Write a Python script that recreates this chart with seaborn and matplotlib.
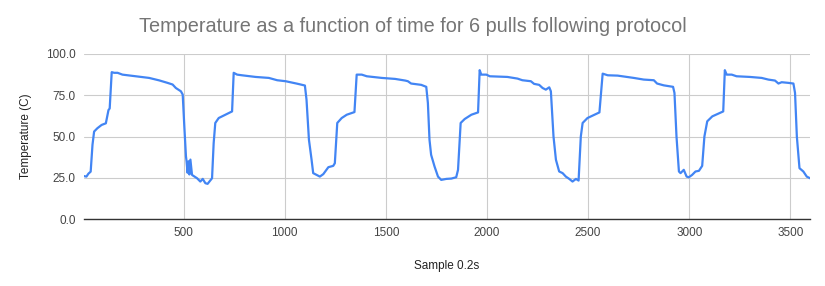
import matplotlib
matplotlib.use("Agg")
import matplotlib.pyplot as plt
import seaborn as sns
import pandas as pd

sample = [8, 20, 30, 41, 50, 58, 74, 95, 116, 129, 135, 145, 157, 174, 198, 264, 330, 380, 421, 446, 462, 487, 496,
          504, 512, 515, 520, 525, 529, 534, 542, 567, 583, 595, 608, 619, 630, 641, 649, 657, 674, 707, 740,
          748, 765, 789, 856, 922, 963, 1005, 1062, 1100, 1108, 1120, 1133, 1141, 1158, 1174, 1191, 1216, 1240,
          1248, 1260, 1282, 1307, 1345, 1356, 1381, 1406, 1480, 1546, 1596, 1609, 1625, 1675, 1700, 1708, 1716,
          1724, 1741, 1758, 1774, 1799, 1824, 1848, 1857, 1870, 1890, 1923, 1956, 1964, 1972, 1997, 2014, 2101,
          2151, 2175, 2217, 2233, 2258, 2275, 2291, 2308, 2316, 2329, 2341, 2357, 2374, 2390, 2407, 2423, 2440,
          2453, 2464, 2473, 2497, 2531, 2556, 2572, 2597, 2646, 2726, 2775, 2825, 2841, 2874, 2920, 2927, 2937,
          2949, 2957, 2973, 2987, 2998, 3014, 3031, 3048, 3064, 3075, 3089, 3114, 3168, 3176, 3185, 3210, 3234,
          3300, 3358, 3391, 3424, 3441, 3457, 3490, 3515, 3523, 3532, 3545, 3564, 3581, 3597]
temperature = [26, 25.7, 27.5, 28.7, 45, 53, 55, 57, 58, 66, 67, 89, 88.6, 88.6, 87.5, 86.5, 85.5, 84, 82.5, 81.5,
               79.4, 77.4, 75.4,
               56, 38, 35, 28, 35, 27, 36, 26.7, 24.7, 22.7, 24.3, 21.7, 21.3, 23, 24.7, 46, 58.2, 61.2, 63.2, 65.2,
               88.6, 87.5, 87.1, 86.1, 85.5, 84.1, 83.5, 82, 80.9, 72.3, 48, 35.9, 27.8, 26.7, 25.7, 27.2, 31.4, 32.2,
               33.8, 58.2, 61.2, 63.2, 64.8, 87.5, 87.5, 86.5, 85.5, 84.9, 83.9, 83.5, 82.1, 81.3, 80.1, 70.3, 48,
               38.9, 31.8, 25.7, 23.7, 24.3, 24.5, 25.3, 29.8, 58.2, 60.6, 63.2, 64.6, 90.2, 87.5, 87.5, 86.5, 86.1,
               85.1, 84.1, 83.5, 81.9, 81.3, 79.4, 78.4, 79.8, 77.4, 50, 35.9, 28.8, 27.8, 25.7, 24.3, 22.7, 24.3,
               23.3, 50, 58.2, 61.2, 63.2, 64.6, 88.1, 87.1, 86.9, 85.5, 84.5, 84.1, 82.1, 81, 80.1, 76.4, 50,
               28.8, 27.8, 29.8, 25.7, 25.3, 26.7, 28.8, 29.2, 32.2, 50, 59.2, 62.2, 65.2, 90.2, 87.5, 87.5, 86.5,
               86.1, 85.5, 84.5, 83.9, 82.1, 82.9, 82.5, 82.1, 76.4, 50, 30.8, 28.8, 25.7, 24.7]

x_ticks = [500, 1000, 1500, 2000, 2500, 3000, 3500]
y_ticks = [0, 25, 50, 75, 100]

title = "Temperature as a function of time for 6 pulls following protocol"
x_label = "Sample 0.2s"
y_label = "Temperature (C)"

df = pd.DataFrame({"Sample": sample, "Temperature": temperature})

sns.set_style("white")
plt.rcParams["font.family"] = ["Liberation Sans", "DejaVu Sans"]

fig = plt.figure(figsize=(8.25, 2.86), dpi=100)
ax = fig.add_axes([84 / 825, 1 - 219 / 286, (810 - 84) / 825, (219 - 54) / 286])

sns.lineplot(data=df, x="Sample", y="Temperature", ax=ax, color="#4285F4", linewidth=1.6)

ax.set_xlim(min(sample), max(sample))
ax.set_ylim(0, 100)
ax.set_xticks(x_ticks)
ax.set_yticks(y_ticks)
ax.set_yticklabels([f"{v:.1f}" for v in y_ticks])
ax.grid(True, color="#cccccc", linewidth=0.8)
ax.set_axisbelow(True)
for s in ["top", "right", "left"]:
    ax.spines[s].set_visible(False)
ax.spines["bottom"].set_color("#333333")
ax.spines["bottom"].set_linewidth(1.0)
ax.tick_params(axis="both", length=0, labelsize=8.5, labelcolor="#444444", pad=6)

ax.set_xlabel(x_label, fontsize=8.5, color="#222222", labelpad=15)
ax.set_ylabel(y_label, fontsize=8.5, color="#222222", labelpad=10)
fig.text(0.5, 1 - 26 / 286, title, ha="center", va="center", fontsize=14.3, color="#757575")

fig.savefig("out.png", dpi=100)
